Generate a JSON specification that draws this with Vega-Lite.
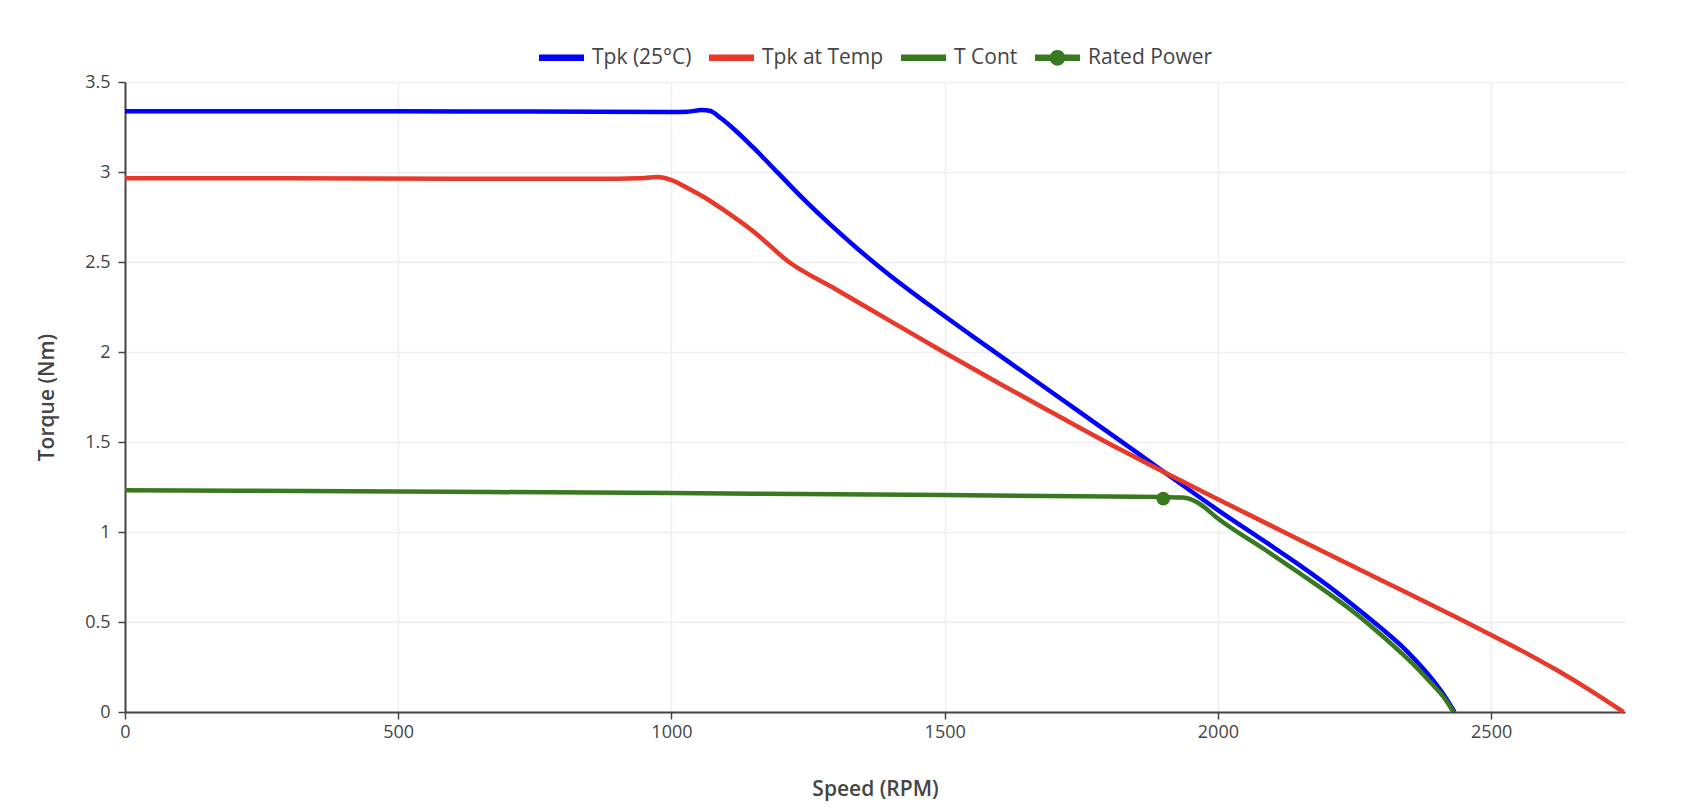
{
  "$schema": "https://vega.github.io/schema/vega-lite/v6.json",
  "width": 1500,
  "height": 630,
  "autosize": {"type": "none"},
  "padding": {"left": 125, "top": 82, "right": 63, "bottom": 100},
  "background": "white",
  "config": {
    "font": "Open Sans",
    "view": {"stroke": null},
    "axis": {
      "gridColor": "#eeeeee",
      "gridWidth": 1.5,
      "domainColor": "#444444",
      "domainWidth": 2,
      "tickColor": "#444444",
      "tickWidth": 1.5,
      "tickSize": 7,
      "labelFlush": false,
      "labelFont": "Open Sans",
      "labelFontSize": 18,
      "labelColor": "#444444",
      "titleFont": "Open Sans",
      "titleFontSize": 21,
      "titleFontWeight": 600,
      "titleColor": "#444444"
    },
    "legend": {
      "direction": "horizontal",
      "symbolSize": 2025,
      "labelFont": "Open Sans",
      "labelFontSize": 21,
      "labelColor": "#444444",
      "labelOffset": 8,
      "columnPadding": 17,
      "symbolStrokeWidth": 0,
      "padding": 0
    }
  },
  "datasets": {
    "curves": [
      {"series": "Tpk (25°C)", "rpm": 0, "torque": 3.338},
      {"series": "Tpk (25°C)", "rpm": 250, "torque": 3.338},
      {"series": "Tpk (25°C)", "rpm": 500, "torque": 3.337},
      {"series": "Tpk (25°C)", "rpm": 750, "torque": 3.336},
      {"series": "Tpk (25°C)", "rpm": 1000, "torque": 3.334},
      {"series": "Tpk (25°C)", "rpm": 1030, "torque": 3.335},
      {"series": "Tpk (25°C)", "rpm": 1055, "torque": 3.344},
      {"series": "Tpk (25°C)", "rpm": 1070, "torque": 3.34},
      {"series": "Tpk (25°C)", "rpm": 1090, "torque": 3.3},
      {"series": "Tpk (25°C)", "rpm": 1110, "torque": 3.25},
      {"series": "Tpk (25°C)", "rpm": 1150, "torque": 3.135},
      {"series": "Tpk (25°C)", "rpm": 1195, "torque": 2.995},
      {"series": "Tpk (25°C)", "rpm": 1240, "torque": 2.855},
      {"series": "Tpk (25°C)", "rpm": 1290, "torque": 2.71},
      {"series": "Tpk (25°C)", "rpm": 1340, "torque": 2.575},
      {"series": "Tpk (25°C)", "rpm": 1400, "torque": 2.425},
      {"series": "Tpk (25°C)", "rpm": 1470, "torque": 2.265},
      {"series": "Tpk (25°C)", "rpm": 1550, "torque": 2.09},
      {"series": "Tpk (25°C)", "rpm": 1650, "torque": 1.875},
      {"series": "Tpk (25°C)", "rpm": 1750, "torque": 1.66},
      {"series": "Tpk (25°C)", "rpm": 1843, "torque": 1.46},
      {"series": "Tpk (25°C)", "rpm": 1922, "torque": 1.289},
      {"series": "Tpk (25°C)", "rpm": 2000, "torque": 1.122},
      {"series": "Tpk (25°C)", "rpm": 2087, "torque": 0.945},
      {"series": "Tpk (25°C)", "rpm": 2150, "torque": 0.815},
      {"series": "Tpk (25°C)", "rpm": 2209, "torque": 0.685},
      {"series": "Tpk (25°C)", "rpm": 2260, "torque": 0.563},
      {"series": "Tpk (25°C)", "rpm": 2300, "torque": 0.463},
      {"series": "Tpk (25°C)", "rpm": 2335, "torque": 0.37},
      {"series": "Tpk (25°C)", "rpm": 2361, "torque": 0.29},
      {"series": "Tpk (25°C)", "rpm": 2392, "torque": 0.182},
      {"series": "Tpk (25°C)", "rpm": 2415, "torque": 0.088},
      {"series": "Tpk (25°C)", "rpm": 2433, "torque": 0},
      {"series": "Tpk at Temp", "rpm": 0, "torque": 2.965},
      {"series": "Tpk at Temp", "rpm": 300, "torque": 2.965},
      {"series": "Tpk at Temp", "rpm": 600, "torque": 2.963},
      {"series": "Tpk at Temp", "rpm": 900, "torque": 2.963},
      {"series": "Tpk at Temp", "rpm": 940, "torque": 2.965},
      {"series": "Tpk at Temp", "rpm": 975, "torque": 2.972},
      {"series": "Tpk at Temp", "rpm": 1000, "torque": 2.955},
      {"series": "Tpk at Temp", "rpm": 1030, "torque": 2.91},
      {"series": "Tpk at Temp", "rpm": 1060, "torque": 2.86},
      {"series": "Tpk at Temp", "rpm": 1100, "torque": 2.78},
      {"series": "Tpk at Temp", "rpm": 1150, "torque": 2.67},
      {"series": "Tpk at Temp", "rpm": 1215, "torque": 2.5},
      {"series": "Tpk at Temp", "rpm": 1300, "torque": 2.35},
      {"series": "Tpk at Temp", "rpm": 1400, "torque": 2.173},
      {"series": "Tpk at Temp", "rpm": 1498, "torque": 2.0},
      {"series": "Tpk at Temp", "rpm": 1600, "torque": 1.825},
      {"series": "Tpk at Temp", "rpm": 1700, "torque": 1.658},
      {"series": "Tpk at Temp", "rpm": 1819, "torque": 1.462},
      {"series": "Tpk at Temp", "rpm": 1900, "torque": 1.335},
      {"series": "Tpk at Temp", "rpm": 2000, "torque": 1.182},
      {"series": "Tpk at Temp", "rpm": 2150, "torque": 0.956},
      {"series": "Tpk at Temp", "rpm": 2300, "torque": 0.731},
      {"series": "Tpk at Temp", "rpm": 2450, "torque": 0.505},
      {"series": "Tpk at Temp", "rpm": 2500, "torque": 0.428},
      {"series": "Tpk at Temp", "rpm": 2560, "torque": 0.334},
      {"series": "Tpk at Temp", "rpm": 2620, "torque": 0.233},
      {"series": "Tpk at Temp", "rpm": 2680, "torque": 0.123},
      {"series": "Tpk at Temp", "rpm": 2742, "torque": 0},
      {"series": "T Cont", "rpm": 0, "torque": 1.232},
      {"series": "T Cont", "rpm": 500, "torque": 1.225},
      {"series": "T Cont", "rpm": 1000, "torque": 1.216},
      {"series": "T Cont", "rpm": 1500, "torque": 1.205},
      {"series": "T Cont", "rpm": 1800, "torque": 1.197},
      {"series": "T Cont", "rpm": 1900, "torque": 1.194},
      {"series": "T Cont", "rpm": 1935, "torque": 1.192},
      {"series": "T Cont", "rpm": 1950, "torque": 1.183},
      {"series": "T Cont", "rpm": 1965, "torque": 1.16},
      {"series": "T Cont", "rpm": 2000, "torque": 1.075},
      {"series": "T Cont", "rpm": 2087, "torque": 0.9},
      {"series": "T Cont", "rpm": 2150, "torque": 0.77},
      {"series": "T Cont", "rpm": 2209, "torque": 0.645},
      {"series": "T Cont", "rpm": 2260, "torque": 0.528},
      {"series": "T Cont", "rpm": 2300, "torque": 0.425},
      {"series": "T Cont", "rpm": 2335, "torque": 0.33},
      {"series": "T Cont", "rpm": 2361, "torque": 0.255},
      {"series": "T Cont", "rpm": 2392, "torque": 0.155},
      {"series": "T Cont", "rpm": 2415, "torque": 0.075},
      {"series": "T Cont", "rpm": 2431, "torque": 0}
    ],
    "rated": [
      {"series": "Rated Power", "rpm": 1900, "torque": 1.185}
    ]
  },
  "layer": [
    {
      "data": {"name": "curves"},
      "mark": {"type": "line", "strokeWidth": 4.5, "interpolate": "monotone"},
      "encoding": {
        "x": {
          "field": "rpm", "type": "quantitative",
          "scale": {"domain": [0, 2745], "nice": false, "zero": false},
          "axis": {"title": "Speed (RPM)", "values": [0, 500, 1000, 1500, 2000, 2500], "format": "d", "labelPadding": 4, "titlePadding": 37}
        },
        "y": {
          "field": "torque", "type": "quantitative",
          "scale": {"domain": [0, 3.5], "nice": false},
          "axis": {"title": "Torque (Nm)", "values": [0, 0.5, 1, 1.5, 2, 2.5, 3, 3.5], "format": "~g", "labelPadding": 8, "titlePadding": 27}
        },
        "color": {
          "field": "series", "type": "nominal",
          "scale": {"domain": ["Rated Power", "T Cont", "Tpk at Temp", "Tpk (25°C)"], "range": ["#38791f", "#38791f", "#e8382a", "#0000ff"]},
          "legend": null
        }
      }
    },
    {
      "data": {"name": "rated"},
      "mark": {"type": "point", "filled": true, "opacity": 1, "size": 190},
      "encoding": {
        "x": {"field": "rpm", "type": "quantitative"},
        "y": {"field": "torque", "type": "quantitative"},
        "color": {"field": "series", "type": "nominal", "legend": null}
      }
    },
    {
      "data": {"name": "rated"},
      "transform": [{"filter": "false"}],
      "mark": {"type": "point", "filled": true, "opacity": 1},
      "encoding": {
        "x": {"field": "rpm", "type": "quantitative"},
        "y": {"field": "torque", "type": "quantitative"},
        "fill": {
          "field": "series", "type": "nominal",
          "scale": {"domain": ["Tpk (25°C)", "Tpk at Temp", "T Cont", "Rated Power"], "range": ["#0000ff", "#e8382a", "#38791f", "#38791f"]},
          "legend": {"title": null, "orient": "none", "legendX": 414, "legendY": -47, "direction": "horizontal"}
        },
        "shape": {
          "field": "series", "type": "nominal",
          "scale": {
            "domain": ["Tpk (25°C)", "Tpk at Temp", "T Cont", "Rated Power"],
            "range": [
              "M-1,-0.14H1V0.14H-1Z",
              "M-1,-0.14H1V0.14H-1Z",
              "M-1,-0.14H1V0.14H-1Z",
              "M-1,-0.14H1V0.14H-1Z M0.35,0A0.35,0.35 0 1 1 -0.35,0A0.35,0.35 0 1 1 0.35,0Z"
            ]
          },
          "legend": {"title": null, "orient": "none", "legendX": 414, "legendY": -47, "direction": "horizontal"}
        }
      }
    }
  ]
}
